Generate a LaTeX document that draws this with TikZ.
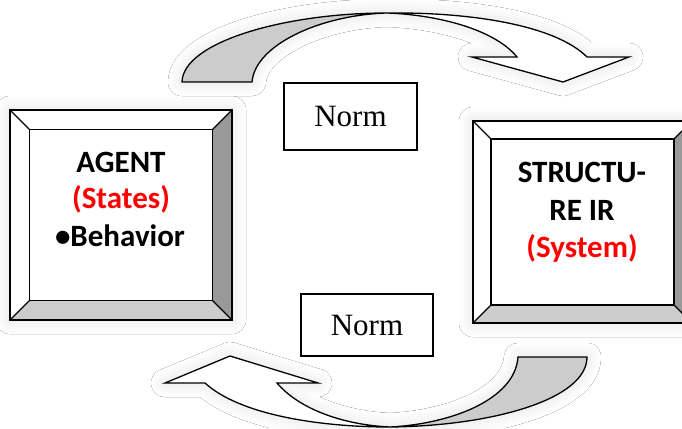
\documentclass[tikz,border=0pt]{standalone}
\usepackage{fontspec}
\setmainfont{Liberation Serif}
\newfontfamily\boxfont{Carlito}
\usetikzlibrary{shadows.blur}
\definecolor{bevR}{HTML}{999999}
\definecolor{bevB}{HTML}{CCCCCC}
\definecolor{twist}{HTML}{CCCCCC}
\definecolor{txtred}{HTML}{FF0000}
\newcommand\bevelbox[6]{%
  \coordinate (#1-o1) at (#2,#3);
  \coordinate (#1-o2) at (#4,#3);
  \coordinate (#1-o3) at (#4,#5);
  \coordinate (#1-o4) at (#2,#5);
  \coordinate (#1-i1) at ({#2+#6},{#3+#6});
  \coordinate (#1-i2) at ({#4-#6},{#3+#6});
  \coordinate (#1-i3) at ({#4-#6},{#5-#6});
  \coordinate (#1-i4) at ({#2+#6},{#5-#6});
  \fill[white, softshadow] (#1-o1) rectangle (#1-o3);
  \fill[bevR] (#1-o2) -- (#1-o3) -- (#1-i3) -- (#1-i2) -- cycle;
  \fill[bevB] (#1-o4) -- (#1-i4) -- (#1-i3) -- (#1-o3) -- cycle;
  \draw (#1-o1) rectangle (#1-o3);
  \draw (#1-i1) rectangle (#1-i3);
  \draw (#1-o1) -- (#1-i1) (#1-o2) -- (#1-i2) (#1-o3) -- (#1-i3) (#1-o4) -- (#1-i4);
}
\begin{document}
\begin{tikzpicture}[x=1pt,y=-1pt, line width=1.3pt, line join=miter,
  softshadow/.style={blur shadow={shadow xshift=0pt, shadow yshift=0pt, shadow blur radius=14pt, shadow blur steps=12, shadow opacity=12}},
  normbox/.style={draw, fill=white, line width=1.3pt, inner sep=0pt, font=\fontsize{31}{31}\selectfont},
  boxtxt/.style={font=\boxfont\bfseries\fontsize{31}{31}\selectfont, anchor=base, inner sep=0pt},
  twistfill/.style={fill=twist, draw=black},
  arrowfill/.style={fill=white, draw=black}]
\useasboundingbox (0,0) rectangle (682,428);
\clip (0,0) rectangle (682,428);
\fill[white] (0,0) rectangle (682,428);

% top curved arrow
\fill[white, softshadow] (182,82) .. controls (183,42) and (285,13) .. (387,13)
  .. controls (470,12) and (555,25) .. (587,57) -- (629,57) -- (563,82) -- (472,57) -- (517,57)
  .. controls (495,30) and (440,15) .. (387,13) .. controls (320,15) and (255,45) .. (252,82) -- cycle;
\path[twistfill] (182,82) .. controls (183,42) and (285,13) .. (387,13)
  .. controls (320,15) and (255,45) .. (252,82) -- cycle;
\path[arrowfill] (387,13) .. controls (470,12) and (555,25) .. (587,57) -- (629,57) -- (563,82)
  -- (472,57) -- (517,57) .. controls (495,30) and (440,15) .. (387,13) -- cycle;

% bottom curved arrow
\fill[white, softshadow] (587,357) .. controls (587,400) and (490,426) .. (390,427)
  .. controls (320,427) and (240,415) .. (205,383) -- (165,383) -- (230,356) -- (318,383) -- (277,383)
  .. controls (300,410) and (345,425) .. (390,427) .. controls (450,424) and (515,400) .. (518,357) -- cycle;
\path[twistfill] (587,357) .. controls (587,400) and (490,426) .. (390,427)
  .. controls (450,424) and (515,400) .. (518,357) -- cycle;
\path[arrowfill] (390,427) .. controls (320,427) and (240,415) .. (205,383) -- (165,383) -- (230,356)
  -- (318,383) -- (277,383) .. controls (300,410) and (345,425) .. (390,427) -- cycle;

% bevelled boxes
\bevelbox{agent}{10}{110}{232}{320}{19.5}
\bevelbox{struct}{473}{121}{692}{323}{18}

% norm boxes
\node[normbox, minimum width=133pt, minimum height=67pt] (norm1) at (350.5,116.5) {Norm};
\node[normbox, minimum width=132pt, minimum height=62pt] (norm2) at (367,325) {Norm};

% texts
\node[boxtxt] (agentA) at (121,172) {AGENT};
\node[boxtxt, text=txtred] (agentB) at (121,208) {(States)};
\node[boxtxt] (agentC) at (120,246) {\char"2022\relax Behavior};
\node[boxtxt] (structA) at (582,182) {STRUCTU-};
\node[boxtxt] (structB) at (582,220) {RE IR};
\node[boxtxt, text=txtred] (structC) at (582,257) {(System)};
\end{tikzpicture}
\end{document}
